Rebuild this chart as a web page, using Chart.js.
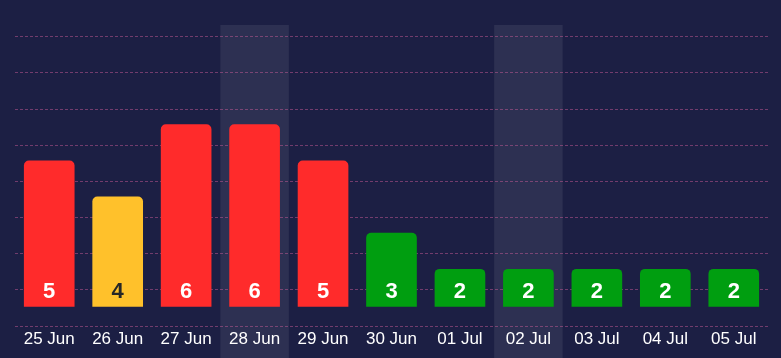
<!DOCTYPE html>
<html>
<head>
<meta charset="utf-8">
<script src="https://cdn.jsdelivr.net/npm/chart.js@4/dist/chart.umd.min.js"></script>
<style>
  html, body { margin: 0; padding: 0; background: #1c1f44; }
  #wrap { width: 781px; height: 358px; position: relative; }
</style>
</head>
<body>
<div id="wrap"><canvas id="c"></canvas></div>
<script>
const categories = ['25 Jun', '26 Jun', '27 Jun', '28 Jun', '29 Jun', '30 Jun', '01 Jul', '02 Jul', '03 Jul', '04 Jul', '05 Jul'];
const values = [5, 4, 6, 6, 5, 3, 2, 2, 2, 2, 2];
const highlighted = ['28 Jun', '02 Jul'];

const BG = '#1c1f44';
const BAND = 'rgba(255,255,255,0.08)';
function barColor(v) {
  if (v >= 5) return '#ff2b2b';
  if (v >= 4) return '#ffc12b';
  return '#009e10';
}
function labelColor(v) {
  return (v >= 4 && v < 5) ? '#262626' : '#ffffff';
}

const Y_MIN = 0.43, Y_MAX = 8.754, BAR_BASE = 0.97;

const bgPlugin = {
  id: 'bgBands',
  beforeDraw(chart) {
    const { ctx, scales: { x }, chartArea } = chart;
    ctx.save();
    ctx.fillStyle = BG;
    ctx.fillRect(0, 0, chart.width, chart.height);
    const w = (chartArea.right - chartArea.left) / categories.length;
    ctx.fillStyle = BAND;
    highlighted.forEach(lbl => {
      const i = categories.indexOf(lbl);
      const cx = x.getPixelForValue(i);
      ctx.fillRect(cx - w / 2, chartArea.top, w, chart.height - chartArea.top);
    });
    ctx.restore();
  }
};

const valueLabels = {
  id: 'valueLabels',
  afterDatasetsDraw(chart) {
    const { ctx } = chart;
    const meta = chart.getDatasetMeta(0);
    ctx.save();
    ctx.font = 'bold 22px "Liberation Sans", Arial, sans-serif';
    ctx.textAlign = 'center';
    ctx.textBaseline = 'middle';
    meta.data.forEach((el, i) => {
      const v = values[i];
      ctx.fillStyle = labelColor(v);
      ctx.fillText(String(v), el.x, el.base - 15);
    });
    ctx.restore();
  }
};

new Chart(document.getElementById('c'), {
  type: 'bar',
  data: {
    labels: categories,
    datasets: [{
      data: values,
      base: BAR_BASE,
      backgroundColor: ctx => barColor(values[ctx.dataIndex]),
      borderRadius: 5,
      borderSkipped: 'start',
      barThickness: 50
    }]
  },
  options: {
    responsive: true,
    maintainAspectRatio: false,
    animation: false,
    devicePixelRatio: 1,
    layout: { padding: { top: 25, left: 15, right: 13, bottom: 0 } },
    plugins: { legend: { display: false }, tooltip: { enabled: false } },
    scales: {
      x: {
        grid: { display: false, drawTicks: false },
        border: { display: false },
        ticks: {
          color: '#ffffff',
          padding: 3,
          maxRotation: 0,
          autoSkip: false,
          font: { family: '"Liberation Sans", Arial, sans-serif', size: 17 }
        },
        afterFit(axis) { axis.height = 32; }
      },
      y: {
        min: Y_MIN,
        max: Y_MAX,
        grid: {
          color: 'rgba(200,90,150,0.5)',
          lineWidth: 1,
          drawTicks: false
        },
        border: { display: false, dash: [3, 2] },
        ticks: { display: false },
        afterBuildTicks(axis) {
          const t = [];
          for (let k = 0; k <= 8; k++) t.push({ value: Y_MIN + k });
          axis.ticks = t;
        },
        afterFit(axis) { axis.width = 0; }
      }
    }
  },
  plugins: [bgPlugin, valueLabels]
});
</script>
</body>
</html>
